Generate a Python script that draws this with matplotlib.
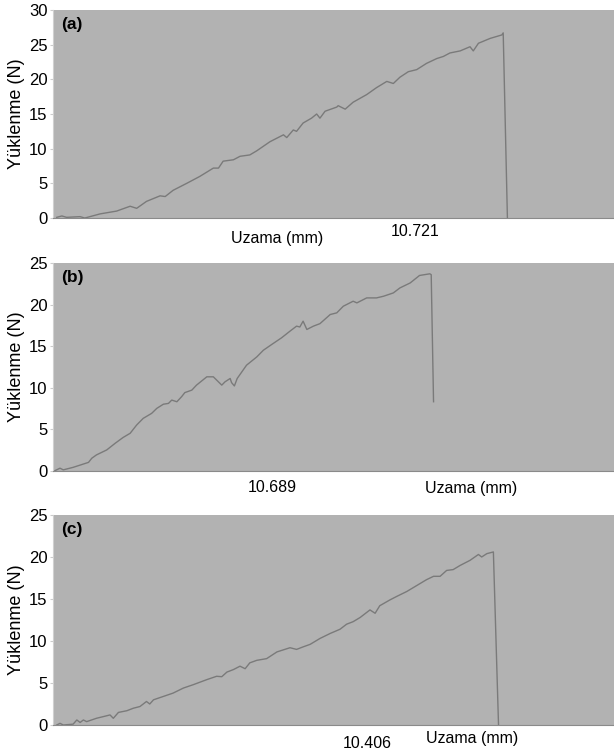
import matplotlib
matplotlib.use("Agg")
import matplotlib.pyplot as plt

plt.rcParams['font.family'] = ['Liberation Sans', 'DejaVu Sans']

# (a) load-elongation record
xa = [0.08, 0.19, 0.29, 0.58, 0.68, 1.01, 1.36, 1.65, 1.79, 2.00, 2.29, 2.40, 2.57, 2.86,
      3.14, 3.43, 3.54, 3.64, 3.86, 4.00, 4.21, 4.36, 4.64, 4.93, 5.00, 5.14, 5.21, 5.35,
      5.53, 5.64, 5.71, 5.82, 6.07, 6.10, 6.25, 6.42, 6.71, 6.92, 7.14, 7.28, 7.42, 7.60,
      7.78, 7.99, 8.21, 8.35, 8.49, 8.71, 8.92, 8.99, 9.10, 9.35, 9.60, 9.63, 9.72]
ya = [0.1, 0.3, 0.1, 0.2, 0.0, 0.6, 1.0, 1.7, 1.4, 2.4, 3.2, 3.1, 4.0, 5.0,
      6.0, 7.2, 7.2, 8.2, 8.4, 8.9, 9.1, 9.7, 11.0, 12.0, 11.6, 12.7, 12.5, 13.7,
      14.4, 15.0, 14.4, 15.4, 16.0, 16.2, 15.7, 16.7, 17.8, 18.8, 19.7, 19.4, 20.3, 21.1,
      21.4, 22.3, 23.0, 23.3, 23.8, 24.1, 24.7, 24.1, 25.2, 25.9, 26.4, 26.7, 0.0]

# (b)
xb = [0.04, 0.15, 0.22, 0.43, 0.65, 0.76, 0.83, 0.93, 1.15, 1.33, 1.50, 1.65, 1.79, 1.93,
      2.11, 2.22, 2.36, 2.47, 2.54, 2.65, 2.75, 2.82, 2.97, 3.07, 3.29, 3.43, 3.61, 3.68,
      3.79, 3.82, 3.88, 3.94, 4.14, 4.36, 4.50, 4.68, 4.89, 5.07, 5.21, 5.28, 5.35, 5.43,
      5.57, 5.71, 5.93, 6.07, 6.21, 6.42, 6.50, 6.71, 6.92, 7.07, 7.28, 7.42, 7.64, 7.84,
      8.06, 8.09, 8.14]
yb = [0.0, 0.3, 0.1, 0.4, 0.8, 1.0, 1.5, 1.9, 2.5, 3.3, 4.0, 4.5, 5.5, 6.3,
      6.9, 7.5, 8.0, 8.1, 8.5, 8.3, 8.9, 9.4, 9.7, 10.3, 11.3, 11.3, 10.3, 10.7,
      11.1, 10.6, 10.2, 11.1, 12.7, 13.7, 14.5, 15.2, 16.0, 16.8, 17.4, 17.3, 18.0, 17.0,
      17.4, 17.7, 18.8, 19.0, 19.8, 20.4, 20.2, 20.8, 20.8, 21.0, 21.4, 22.0, 22.6, 23.5,
      23.7, 23.6, 8.3]

# (c)
xc = [0.08, 0.15, 0.22, 0.43, 0.51, 0.58, 0.65, 0.72, 0.93, 1.15, 1.22, 1.29, 1.40, 1.58,
      1.72, 1.86, 2.00, 2.07, 2.15, 2.36, 2.57, 2.79, 3.00, 3.29, 3.50, 3.61, 3.72, 3.86,
      4.00, 4.11, 4.21, 4.36, 4.57, 4.79, 5.07, 5.21, 5.35, 5.50, 5.71, 5.93, 6.14, 6.28,
      6.42, 6.57, 6.78, 6.89, 6.99, 7.21, 7.35, 7.57, 7.78, 7.99, 8.14, 8.28, 8.42, 8.56,
      8.71, 8.92, 9.10, 9.17, 9.28, 9.42, 9.53]
yc = [0.0, 0.2, 0.0, 0.1, 0.6, 0.3, 0.6, 0.4, 0.8, 1.1, 1.2, 0.8, 1.5, 1.7,
      2.0, 2.2, 2.8, 2.5, 3.0, 3.4, 3.8, 4.4, 4.8, 5.4, 5.8, 5.75, 6.3, 6.6,
      7.0, 6.7, 7.4, 7.7, 7.9, 8.7, 9.2, 9.0, 9.3, 9.6, 10.3, 10.9, 11.4, 12.0,
      12.3, 12.8, 13.7, 13.3, 14.2, 14.9, 15.3, 15.9, 16.6, 17.3, 17.7, 17.7, 18.4, 18.5,
      19.0, 19.6, 20.3, 20.0, 20.4, 20.6, 0.0]

panels = [
    ("(a)", xa, ya, 30),
    ("(b)", xb, yb, 25),
    ("(c)", xc, yc, 25),
]
# [left, bottom, width, height]
boxes = [[0.0863, 0.7116, 0.9137, 0.2752],
         [0.0863, 0.3774, 0.9137, 0.2747],
         [0.0863, 0.0410, 0.9137, 0.2778]]

fig = plt.figure(figsize=(6.14, 7.56), dpi=100)

for i, (tag, x, y, ymax) in enumerate(panels):
    ax = fig.add_axes(boxes[i])
    ax.set_facecolor('#b2b2b2')
    ax.plot(x, y, color='#7a7a7a', lw=1.0)
    ax.set_xlim(0, 12)
    ax.set_ylim(0, ymax)
    ax.set_yticks(range(0, ymax + 1, 5))
    ax.set_xticks([])
    ax.tick_params(axis='y', labelsize=12, length=2, color='#cccccc', pad=2)
    for s in ['top', 'right']:
        ax.spines[s].set_visible(False)
    ax.spines['left'].set_color('#d0d0d0')
    ax.spines['bottom'].set_color('#8a8a8a')
    ax.spines['bottom'].set_linestyle((0, (1, 1)))
    ax.set_ylabel('Yüklenme (N)', fontsize=13, labelpad=3)
    ax.text(0.014, 0.965, tag, transform=ax.transAxes, fontsize=12.5,
            fontweight='bold', va='top', ha='left')

# x-axis texts under each panel
fs = 11.5
fig.text(277 / 614, 1 - 238 / 756, 'Uzama (mm)', fontsize=fs, ha='center', va='center')
fig.text(415 / 614, 1 - 232 / 756, '10.721', fontsize=fs, ha='center', va='center')
fig.text(272 / 614, 1 - 488 / 756, '10.689', fontsize=fs, ha='center', va='center')
fig.text(471 / 614, 1 - 488 / 756, 'Uzama (mm)', fontsize=fs, ha='center', va='center')
fig.text(367 / 614, 1 - 743 / 756, '10.406', fontsize=fs, ha='center', va='center')
fig.text(472 / 614, 1 - 738 / 756, 'Uzama (mm)', fontsize=fs, ha='center', va='center')

fig.savefig('out.png', dpi=100)
